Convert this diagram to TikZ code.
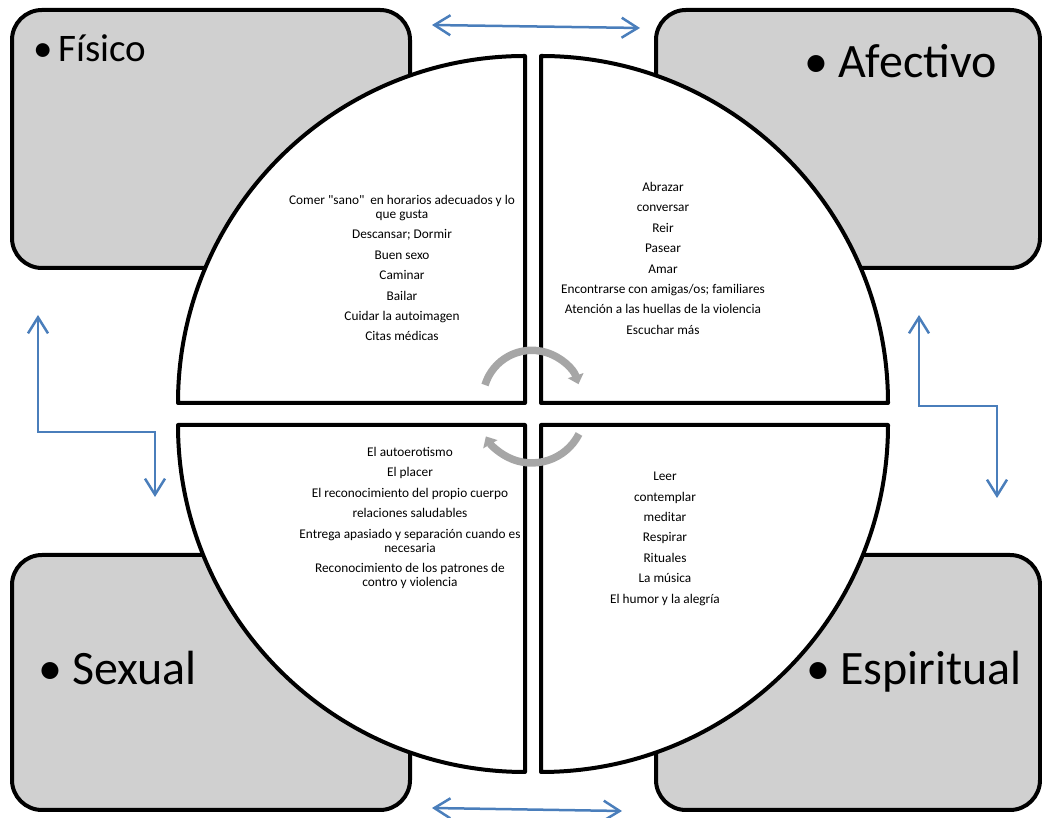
\documentclass[tikz,border=0pt]{standalone}
\usepackage{fontspec}
\setmainfont{Carlito}
\usepackage{xcolor}
\usepackage{tikz}
\usetikzlibrary{arrows.meta}
\definecolor{boxgray}{RGB}{208,208,208}
\definecolor{linkblue}{RGB}{74,126,187}
\definecolor{cycgray}{RGB}{166,166,166}

\begin{document}
\begin{tikzpicture}[x=1pt,y=1pt,
  box/.style={draw=black,line width=4pt,fill=boxgray,rounded corners=30pt},
  quad/.style={draw=black,line width=4pt,fill=white,line join=round},
  biarrow/.style={draw=linkblue,line width=2.5pt,{Straight Barb[length=16pt,width=20pt]}-{Straight Barb[length=16pt,width=20pt]}},
  cyc/.style={draw=cycgray,line width=7.5pt,-{Triangle[length=9pt,width=16pt]}},
  title/.style={anchor=base west,inner sep=0pt,font=\fontsize{48}{58}\selectfont},
  items/.style={anchor=north,align=center,inner sep=0pt,font=\fontsize{13.3}{14}\selectfont}]
\useasboundingbox (0,0) rectangle (1042,818);
\draw[box] (12,808) rectangle (410,550);
\draw[box] (656,808) rectangle (1040,550);
\draw[box] (12,263) rectangle (410,8);
\draw[box] (656,263) rectangle (1040,8);
\draw[quad] (525,415) -- (178,415) arc[start angle=180,end angle=90,radius=347] -- cycle;
\draw[quad] (541,415) -- (888,415) arc[start angle=0,end angle=90,radius=347] -- cycle;
\draw[quad] (525,393) -- (178,393) arc[start angle=180,end angle=270,radius=347] -- cycle;
\draw[quad] (541,393) -- (888,393) arc[start angle=0,end angle=-90,radius=347] -- cycle;
\draw[cyc] (485,433) arc[start angle=163,end angle=18,radius=49];
\draw[cyc] (579,384) arc[start angle=-27,end angle=-150,radius=53];
\node[title,font=\fontsize{39}{47}\selectfont] (fisico) at (33,756) {\textbullet\hspace{6pt}Físico};
\node[title] (afectivo) at (804,740) {\textbullet\hspace{10pt}Afectivo};
\node[title] (sexual) at (38,133) {\textbullet\hspace{10pt}Sexual};
\node[title] (espiritual) at (806,133) {\textbullet\hspace{10pt}Espiritual};
\node[items] (fisList) at (402,623) {Comer \textquotedbl sano\textquotedbl\ \ en horarios adecuados y lo\\que gusta\\[6.4pt]
  Descansar; Dormir\\[6.4pt]Buen sexo\\[6.4pt]Caminar\\[6.4pt]Bailar\\[6.4pt]Cuidar la autoimagen\\[6.4pt]Citas médicas};
\node[items] (afeList) at (663,636) {Abrazar\\[6.4pt]conversar\\[6.4pt]Reir\\[6.4pt]Pasear\\[6.4pt]Amar\\[6.4pt]
  Encontrarse con amigas/os; familiares\\[6.4pt]Atención a las huellas de la violencia\\[6.4pt]Escuchar más};
\node[items] (sexList) at (410,371) {El autoerotismo\\[6.4pt]El placer\\[6.4pt]El reconocimiento del propio cuerpo\\[6.4pt]
  relaciones saludables\\[6.4pt]Entrega apasiado y separación cuando es\\necesaria\\[6.4pt]
  Reconocimiento de los patrones de\\contro y violencia};
\node[items] (espList) at (665,346) {Leer\\[6.4pt]contemplar\\[6.4pt]meditar\\[6.4pt]Respirar\\[6.4pt]Rituales\\[6.4pt]La música\\[6.4pt]El humor y la alegría};
\coordinate (topL) at (432,793);
\coordinate (topR) at (640,790);
\coordinate (botL) at (432,10);
\coordinate (botR) at (622,7);
\coordinate (leftUp) at (38,503);
\coordinate (leftKnee) at (38,386);
\coordinate (leftDown) at (155,321);
\coordinate (rightUp) at (919,503);
\coordinate (rightKnee) at (919,412);
\coordinate (rightDown) at (997,320);
\draw[biarrow] (topL) -- (topR);
\draw[biarrow] (botL) -- (botR);
\draw[biarrow] (leftUp) -- (leftKnee) -| (leftDown);
\draw[biarrow] (rightUp) -- (rightKnee) -| (rightDown);
\end{tikzpicture}
\end{document}
